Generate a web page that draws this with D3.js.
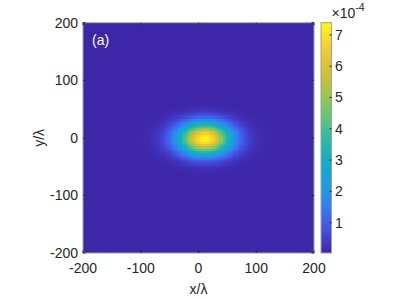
<!DOCTYPE html>
<html>
<head>
<meta charset="utf-8">
<script src="https://d3js.org/d3.v7.min.js"></script>
<style>
  body { margin: 0; background: #fff; }
  text { font-family: "Liberation Sans", Arial, sans-serif; fill: #262626; }
</style>
</head>
<body>
<svg id="chart" width="407" height="299"></svg>
<script>
// axis ticks
var xTicks = [-200, -100, 0, 100, 200];
var yTicks = [-200, -100, 0, 100, 200];
var cbTicks = [1, 2, 3, 4, 5, 6, 7];
var cbRange = [0.03e-4, 7.39e-4];

// spot: centre (x, y), widths (sx, sy) in lambda, amplitude
var spotX = [11, 11];
var spotY = [-1, -1];
var spotSx = [31, 58];
var spotSy = [19, 25];
var spotAmp = [7.05e-4, 0.34e-4];

// parula colour stops
var parula = ["#3e26a8", "#475bf9", "#2796eb", "#06acd0", "#2cbba0", "#71cb69", "#c8c12f", "#fdbd3c", "#f9fb14"];

(function () {
  var step = 4;
  var grid = d3.range(-200, 200 + step / 2, step);

  var svg = d3.select('#chart');
  var pL = 83, pR = 314, pT = 22.7, pB = 253;
  var x = d3.scaleLinear([-200, 200], [pL, pR]);
  var y = d3.scaleLinear([-200, 200], [pB, pT]);
  var cmap = d3.scaleSequential(cbRange, d3.interpolateRgbBasis(parula)).clamp(true);

  function field(px, py) {
    var v = 0;
    for (var k = 0; k < spotAmp.length; k++) {
      var dx = (px - spotX[k]) / spotSx[k], dy = (py - spotY[k]) / spotSy[k];
      v += spotAmp[k] * Math.exp(-(dx * dx + dy * dy) / 2);
    }
    return v;
  }

  var cells = [];
  grid.forEach(function(gy) {
    grid.forEach(function(gx) { cells.push({x: gx, y: gy, v: field(gx, gy)}); });
  });

  var cw = Math.abs(x(step) - x(0));
  var img = svg.append('g').attr('shape-rendering', 'crispEdges');
  img.selectAll('rect').data(cells).enter().append('rect')
    .attr('x', function(d) { return Math.max(pL, x(d.x) - cw / 2); })
    .attr('y', function(d) { return Math.max(pT, y(d.y) - cw / 2); })
    .attr('width', function(d) { return Math.min(pR, x(d.x) + cw / 2 + 0.4) - Math.max(pL, x(d.x) - cw / 2); })
    .attr('height', function(d) { return Math.min(pB, y(d.y) + cw / 2 + 0.4) - Math.max(pT, y(d.y) - cw / 2); })
    .attr('fill', function(d) { return cmap(d.v); });

  // box and inward ticks
  svg.append('rect').attr('x', pL).attr('y', pT).attr('width', pR - pL).attr('height', pB - pT)
    .attr('fill', 'none').attr('stroke', '#a0a0a0').attr('stroke-width', 1);
  var tl = 2.5;
  svg.append('g').selectAll('line').data(xTicks).enter().append('line')
    .attr('x1', function(d) { return x(d); }).attr('x2', function(d) { return x(d); })
    .attr('y1', pB).attr('y2', pB - tl).attr('stroke', '#262626');
  svg.append('g').selectAll('line').data(xTicks).enter().append('line')
    .attr('x1', function(d) { return x(d); }).attr('x2', function(d) { return x(d); })
    .attr('y1', pT).attr('y2', pT + tl).attr('stroke', '#262626');
  svg.append('g').selectAll('line').data(yTicks).enter().append('line')
    .attr('y1', function(d) { return y(d); }).attr('y2', function(d) { return y(d); })
    .attr('x1', pL).attr('x2', pL + tl).attr('stroke', '#262626');
  svg.append('g').selectAll('line').data(yTicks).enter().append('line')
    .attr('y1', function(d) { return y(d); }).attr('y2', function(d) { return y(d); })
    .attr('x1', pR).attr('x2', pR - tl).attr('stroke', '#262626');

  // tick labels
  svg.append('g').selectAll('text').data(xTicks).enter().append('text')
    .attr('x', function(d) { return x(d); }).attr('y', pB + 19.5)
    .attr('text-anchor', 'middle').style('font-size', '14px')
    .text(function(d) { return d; });
  svg.append('g').selectAll('text').data(yTicks).enter().append('text')
    .attr('x', pL - 5).attr('y', function(d) { return y(d) + 5; })
    .attr('text-anchor', 'end').style('font-size', '14px')
    .text(function(d) { return d; });

  // axis titles
  svg.append('text').attr('x', x(0)).attr('y', 294).attr('text-anchor', 'middle')
    .style('font-size', '14px').text('x/\u03bb');
  svg.append('text').attr('transform', 'translate(44,' + y(0) + ') rotate(-90)')
    .attr('text-anchor', 'middle').style('font-size', '14px').text('y/\u03bb');

  // panel label
  svg.append('text').attr('x', 92).attr('y', 45).style('font-size', '14px')
    .style('fill', '#ffffff').text('(a)');

  // colorbar
  var cbL = 321, cbR = 331.5;
  var cy = d3.scaleLinear(cbRange, [pB, pT]);
  var grad = svg.append('defs').append('linearGradient').attr('id', 'cbgrad')
    .attr('x1', 0).attr('y1', 1).attr('x2', 0).attr('y2', 0);
  d3.range(0, 1.0001, 0.05).forEach(function(t) {
    grad.append('stop').attr('offset', t).attr('stop-color', d3.interpolateRgbBasis(parula)(t));
  });
  svg.append('rect').attr('x', cbL).attr('y', pT).attr('width', cbR - cbL).attr('height', pB - pT)
    .attr('fill', 'url(#cbgrad)').attr('stroke', '#a0a0a0').attr('stroke-width', 1);
  svg.append('g').selectAll('line').data(cbTicks).enter().append('line')
    .attr('y1', function(d) { return cy(d * 1e-4); }).attr('y2', function(d) { return cy(d * 1e-4); })
    .attr('x1', cbR).attr('x2', cbR - 2).attr('stroke', '#262626');
  svg.append('g').selectAll('text').data(cbTicks).enter().append('text')
    .attr('x', cbR + 3.5).attr('y', function(d) { return cy(d * 1e-4) + 5; })
    .style('font-size', '14px').text(function(d) { return d; });
  var mult = svg.append('text').attr('x', 331.5).attr('y', 18.3).style('font-size', '14px');
  mult.append('tspan').text('\u00d710');
  mult.append('tspan').attr('dy', -7.5).style('font-size', '10.5px').text('-4');
}());
</script>
</body>
</html>
